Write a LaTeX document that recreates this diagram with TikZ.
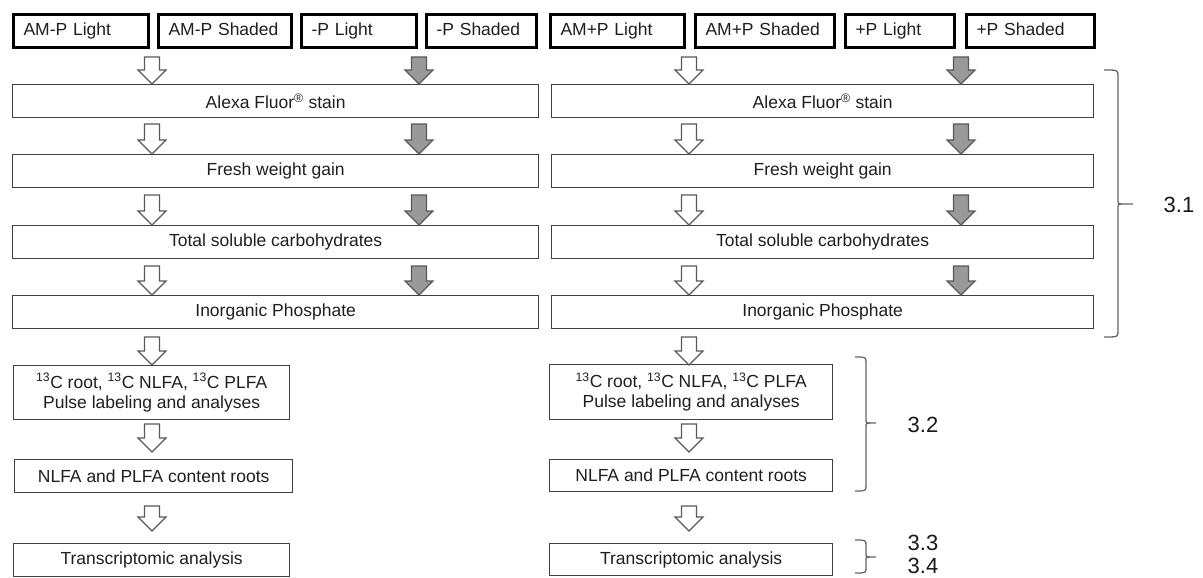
\documentclass[tikz,border=0pt]{standalone}
\usepackage{fontspec}
\setmainfont{Liberation Sans}
\begin{document}
\begin{tikzpicture}[x=1pt,y=-1pt,
  every node/.style={font=\fontsize{17.5}{19}\selectfont, text=black!88},
  topbox/.style={draw=black, line width=3pt, align=left, inner xsep=10pt, inner ysep=0pt, text height=12.5pt, text depth=3.5pt},
  fullbox/.style={draw=black!75, line width=1.3pt, align=center, inner sep=0pt},
  twoline/.style={font=\fontsize{17.5}{20}\selectfont},
  arrowline/.style={draw=black!65, line width=1.2pt, line join=miter},
  bracestyle/.style={draw=black!60, line width=1.3pt},
  seclabel/.style={font=\fontsize{22}{24}\selectfont, text=black!90}]
\useasboundingbox (0,0) rectangle (1203,578);
\fill[white] (0,0) rectangle (1203,578);

\newcommand\mktop[4]{% name, x1, x2, text
  \pgfmathsetmacro\mytw{#3-#2-20}
  \node[topbox, text width=\mytw pt, minimum height=33pt, anchor=north west] (#1) at (#2,13) {#4};}
\newcommand\mkbox[7][]{% [extra style], name, x1, y1, x2, y2, text
  \pgfmathsetmacro\mybw{#5-#3}\pgfmathsetmacro\mybh{#6-#4}
  \node[fullbox, #1, minimum width=\mybw pt, minimum height=\mybh pt, anchor=north west] (#2) at (#3,#4) {#7};}
\newcommand\blockarrow[4]{% x, ytop, ybot, fill
  \draw[arrowline, fill=#4] (#1-7.5,#2) -- (#1+7.5,#2) -- (#1+7.5,#3-14) -- (#1+14,#3-14) -- (#1,#3)
    -- (#1-14,#3-14) -- (#1-7.5,#3-14) -- cycle;}
\newcommand\bracket[6]{% xleft, xvert, ytop, ybot, ymid, xtip
  \draw[bracestyle] (#1,#3) .. controls (#2,#3) .. (#2,#3+6) -- (#2,#5-5) .. controls (#2,#5) .. (#2+4,#5) -- (#6,#5);
  \draw[bracestyle] (#2+4,#5) .. controls (#2,#5) .. (#2,#5+5) -- (#2,#4-6) .. controls (#2,#4) .. (#1,#4);}

% top boxes
\mktop{t1}{12}{147}{AM-P Light}
\mktop{t2}{157}{290}{AM-P Shaded}
\mktop{t3}{300}{415}{-P Light}
\mktop{t4}{425}{535}{-P Shaded}
\mktop{t5}{549}{683}{AM+P Light}
\mktop{t6}{694}{833}{AM+P Shaded}
\mktop{t7}{844}{953}{+P Light}
\mktop{t8}{965}{1093}{+P Shaded}

% full-width rows
\mkbox{la}{12}{84}{538}{117}{Alexa Fluor\textsuperscript{®} stain}
\mkbox{ra}{551}{84}{1093}{117}{Alexa Fluor\textsuperscript{®} stain}
\mkbox{lf}{12}{154}{538}{187}{Fresh weight gain}
\mkbox{rf}{551}{154}{1093}{187}{Fresh weight gain}
\mkbox{lt}{12}{225}{538}{258}{Total soluble carbohydrates}
\mkbox{rt}{551}{225}{1093}{258}{Total soluble carbohydrates}
\mkbox{li}{12}{295}{538}{328}{Inorganic Phosphate}
\mkbox{ri}{551}{295}{1093}{328}{Inorganic Phosphate}

% lower boxes
\mkbox[twoline]{lc}{13}{365}{289}{419}{\textsuperscript{13}C root, \textsuperscript{13}C NLFA, \textsuperscript{13}C PLFA\\Pulse labeling and analyses}
\mkbox[twoline]{rc}{549}{364}{832}{419}{\textsuperscript{13}C root, \textsuperscript{13}C NLFA, \textsuperscript{13}C PLFA\\Pulse labeling and analyses}
\mkbox{ln}{14}{459}{292}{492}{NLFA and PLFA content roots}
\mkbox{rn}{549}{459}{832}{491}{NLFA and PLFA content roots}
\mkbox{lx}{13}{543}{289}{576}{Transcriptomic analysis}
\mkbox{rx}{549}{543}{832}{575}{Transcriptomic analysis}

% arrows in upper rows
\foreach \ya/\yb in {57/84,124/154,195/225,266/295}{
  \blockarrow{152}{\ya}{\yb}{white}
  \blockarrow{419}{\ya}{\yb}{black!40}
  \blockarrow{689}{\ya}{\yb}{white}
  \blockarrow{961}{\ya}{\yb}{black!40}
}
% arrows in lower part
\foreach \ya/\yb in {337/365,424/452,506/531}{
  \blockarrow{152}{\ya}{\yb}{white}
  \blockarrow{689}{\ya}{\yb}{white}
}

% brackets and section labels
\bracket{1104}{1118}{70}{337}{204}{1133}
\node[seclabel] (s31) at (1179,205) {3.1};
\bracket{855}{866}{357}{491}{423}{876}
\node[seclabel] (s32) at (923,425) {3.2};
\bracket{855}{866}{540}{573}{557}{876}
\node[seclabel] (s33) at (923,543) {3.3};
\node[seclabel] (s34) at (923,566) {3.4};
\end{tikzpicture}
\end{document}
